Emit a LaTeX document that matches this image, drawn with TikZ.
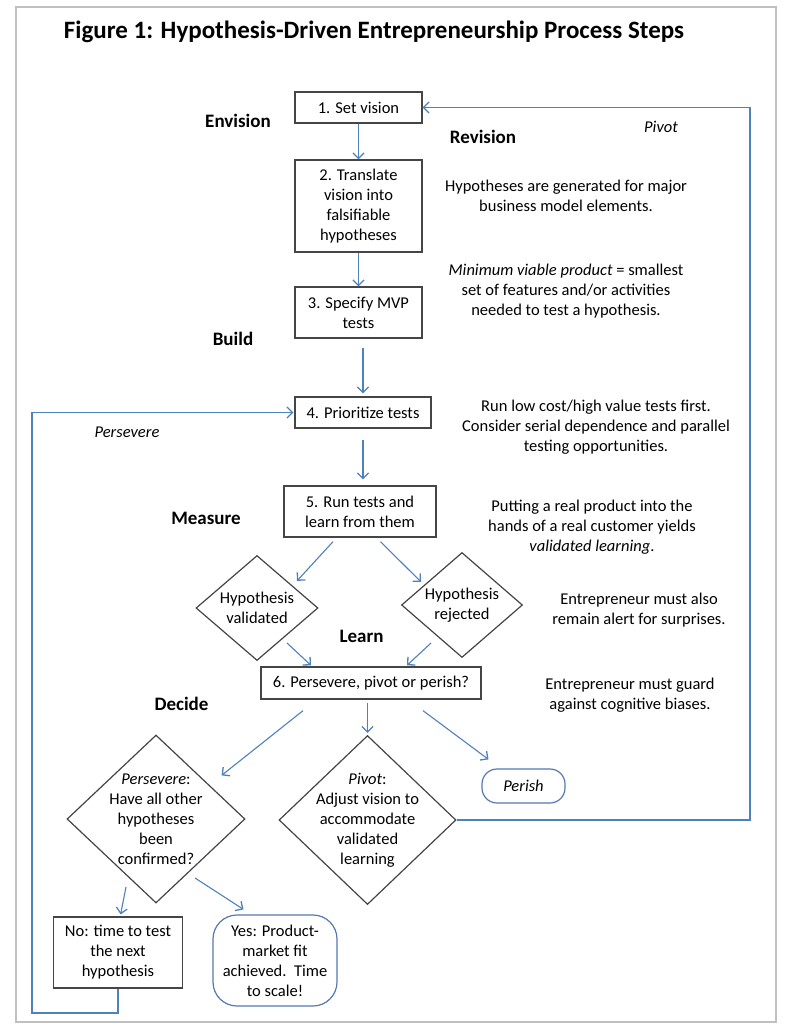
\documentclass[tikz,border=0pt]{standalone}
\usepackage{fontspec}
\setmainfont{Carlito}
\usetikzlibrary{arrows.meta,shapes.geometric,calc}
\definecolor{arrblue}{HTML}{4F81BD}
\definecolor{boxgray}{HTML}{454545}
\definecolor{framegray}{HTML}{C0C0C0}
\definecolor{roundblue}{HTML}{5579B0}
\newcommand{\bodyfont}{\fontsize{16.5}{20}\selectfont}
\tikzset{
  box/.style={draw=boxgray, line width=1.3pt, fill=white, align=center, font=\bodyfont, inner sep=0pt},
  dia/.style={draw=boxgray, line width=1.2pt, fill=white, shape=diamond, inner sep=0pt},
  rbox/.style={draw=roundblue, line width=1.2pt, fill=white, align=center, font=\bodyfont, inner sep=0pt},
  arr/.style={draw=arrblue, line width=1.1pt, -{Straight Barb[length=5.5pt,width=11pt,line width=1.3pt]}},
  phase/.style={font=\fontsize{19}{22}\selectfont\bfseries, inner sep=0pt},
  note/.style={font=\bodyfont, align=center, inner sep=0pt},
}
\begin{document}
\begin{tikzpicture}[x={(1pt,0pt)}, y={(0pt,-1pt)}]
\useasboundingbox (0,0) rectangle (786,1030);
\fill[white] (0,0) rectangle (786,1030);
\draw[framegray, line width=1.3pt] (16,7) rectangle (776,1022);

% title
\node[inner sep=0pt, font=\fontsize{25}{28}\selectfont\bfseries] (title) at (374,32) {Figure 1: Hypothesis-Driven Entrepreneurship Process Steps};

% boxes
\node[box, minimum width=127, minimum height=31] (b1) at (358.5,107.5) {1. Set vision};
\node[box, minimum width=127, minimum height=92] (b2) at (358.5,206) {2. Translate\\vision into\\falsifiable\\hypotheses};
\node[box, minimum width=127, minimum height=51] (b3) at (358.5,312.5) {3. Specify MVP\\tests};
\node[box, minimum width=136, minimum height=31] (b4) at (363,412.5) {4. Prioritize tests};
\node[box, minimum width=152, minimum height=51] (b5) at (360,511.5) {5. Run tests and\\learn from them};
\node[dia, minimum width=122, minimum height=105, label={[note]center:Hypothesis\\validated}] (hv) at (257,608) {};
\node[dia, minimum width=121, minimum height=105, label={[note]center:Hypothesis\\rejected}] (hr) at (462,605) {};
\node[box, minimum width=220, minimum height=32] (b6) at (371,683) {6. Persevere, pivot or perish?};
\node[dia, minimum width=178, minimum height=168, label={[note]center:\textit{Persevere}:\\Have all other\\hypotheses\\been\\confirmed?}] (dp) at (156,819) {};
\node[dia, minimum width=177, minimum height=169, label={[note]center:\textit{Pivot}:\\Adjust vision to\\accommodate\\validated\\learning}] (dpv) at (367.5,820) {};
\node[rbox, rounded corners=15pt, minimum width=83, minimum height=34] (perish) at (523.5,786) {\textit{Perish}};
\node[box, minimum width=129, minimum height=71] (bno) at (118,952.5) {No: time to test\\the next\\hypothesis};
\node[rbox, rounded corners=24pt, minimum width=124, minimum height=91] (byes) at (275,960.5) {Yes: Product-\\market fit\\achieved.\ \ Time\\to scale!};

% phase labels
\node[phase] (lenv) at (238,121) {Envision};
\node[phase] (lrev) at (483,137) {Revision};
\node[phase] (lbuild) at (233,339) {Build};
\node[phase] (lmeas) at (206,518) {Measure};
\node[phase] (llearn) at (361.6,636) {Learn};
\node[phase] (ldec) at (181.5,704) {Decide};

% loop labels
\node[note, font=\bodyfont\itshape] (lpivot) at (661,127) {Pivot};
\node[note, font=\bodyfont\itshape] (lpers) at (127,432) {Persevere};

% side notes
\node[note] (thyp) at (566,196) {Hypotheses are generated for major\\business model elements.};
\node[note] (tmvp) at (566,291) {\textit{Minimum viable product} = smallest\\set of features and/or activities\\needed to test a hypothesis.};
\node[note] (trun) at (596,427) {Run low cost/high value tests first.\\Consider serial dependence and parallel\\testing opportunities.};
\node[note] (tput) at (592,527) {Putting a real product into the\\hands of a real customer yields\\\textit{validated learning}.};
\node[note] (talert) at (639,610) {Entrepreneur must also\\remain alert for surprises.};
\node[note] (tguard) at (630,695) {Entrepreneur must guard\\against cognitive biases.};

% connectors
\draw[arr] (b1) -- (b2);
\draw[arr] (b2) -- (b3);
\draw[arr, shorten <=9pt, shorten >=3pt] (b3.south -| b4.north) -- (b4.north);
\draw[arr, shorten <=11pt, shorten >=6pt] (b4.south) -- (b4.south |- b5.north);
\draw[arr] ($(b5.south)+(-27,4)$) -- ($(hv.north)+(40,26)$);
\draw[arr] ($(b5.south)+(20.5,4)$) -- ($(hr.north)+(-41,30)$);
\draw[arr] ($(hv.center)+(30,35)$) -- ($(b6.north)+(-60,-1)$);
\draw[arr] ($(hr.center)+(-31,38)$) -- ($(b6.north)+(36,-1)$);
\draw[arr] ($(b6.south)+(-68,11)$) -- ($(dp.north)+(65.6,41)$);
\draw[arr, shorten <=3pt, shorten >=2pt] (b6.south -| dpv.north) -- (dpv.north);
\draw[arr] ($(b6.south)+(52,11)$) -- ($(perish.north)+(-35,-9)$);
\draw[arr] ($(dp.center)+(-30,68)$) -- ($(bno.north)+(2.6,-2)$);
\draw[arr] ($(dp.center)+(39,59)$) -- ($(byes.north)+(-31.5,-5)$);
\coordinate (pivotcorner) at (750,820);
\draw[arr] (dpv.east) -- (pivotcorner) |- (b1.east);
\coordinate (perscorner) at (32,1013);
\draw[arr, shorten >=1pt] (bno.south) |- (perscorner) |- (b4.west);
\end{tikzpicture}
\end{document}
